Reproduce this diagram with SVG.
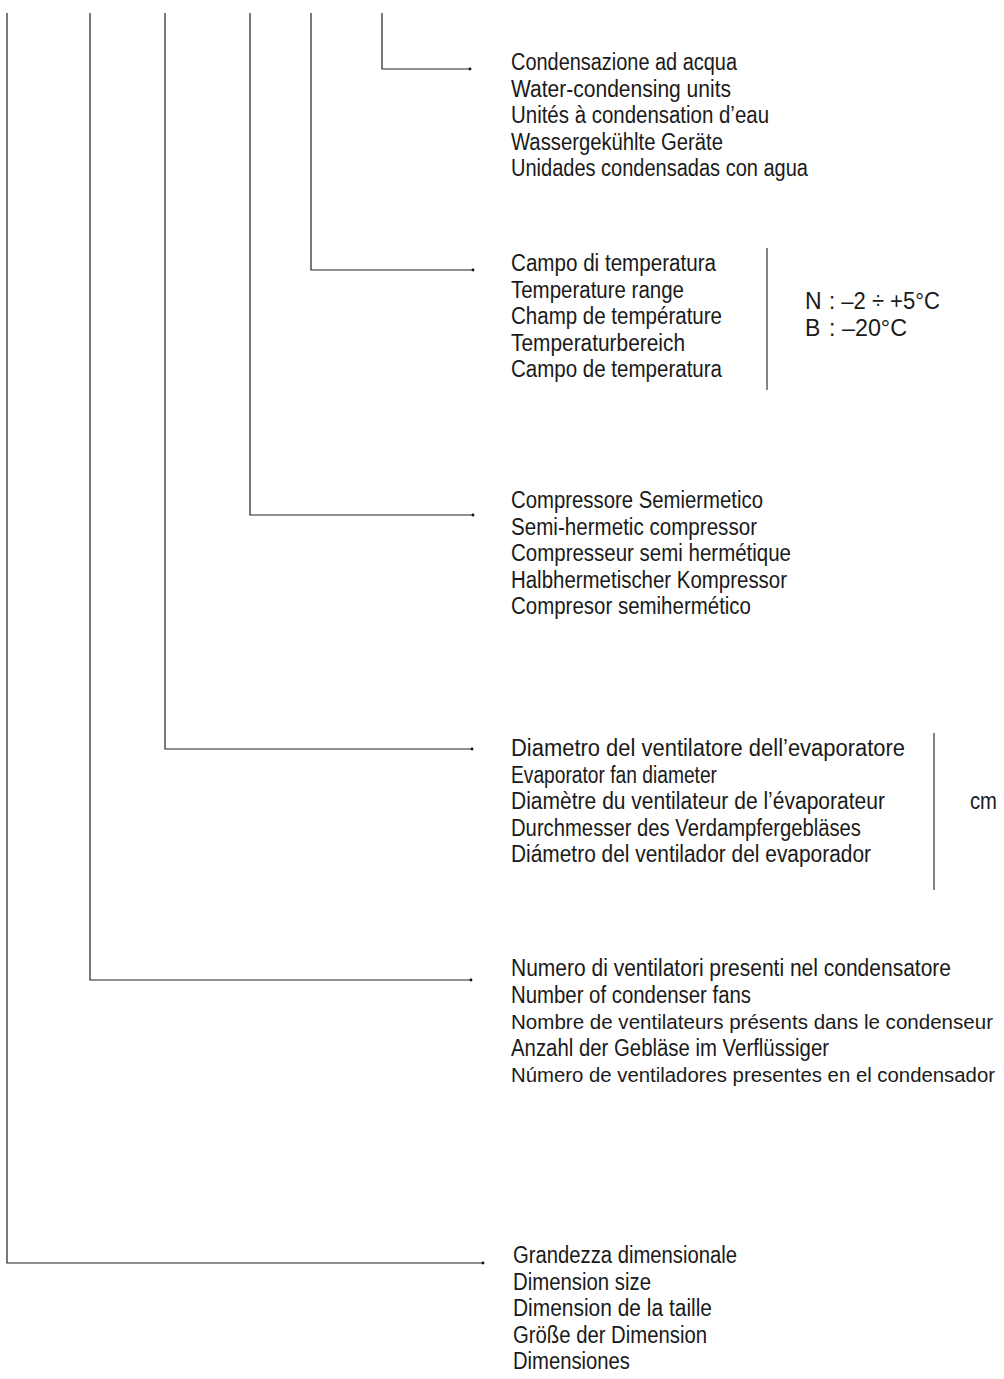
<svg xmlns="http://www.w3.org/2000/svg" width="1004" height="1379" viewBox="0 0 1004 1379">
<style>
.t{font-family:"Liberation Sans Narrow","Liberation Sans",Arial,sans-serif;font-size:23px;fill:#1a1a1a}
.s{font-size:20.5px}
.c{fill:none;stroke:#222;stroke-width:1.2}
.bar{fill:none;stroke:#333;stroke-width:1.2}
</style>
<defs>
<marker id="dot" viewBox="0 0 4 4" refX="2" refY="2" markerWidth="4" markerHeight="4" markerUnits="userSpaceOnUse">
<circle cx="2" cy="2" r="1.4" fill="#111"/>
</marker>
</defs>
<rect width="1004" height="1379" fill="#fff"/>
<g id="connectors">
<path class="c" d="M382,13 V69 H470" marker-end="url(#dot)"/>
<path class="c" d="M311,13 V270 H473" marker-end="url(#dot)"/>
<path class="c" d="M250,13 V515 H473" marker-end="url(#dot)"/>
<path class="c" d="M165,13 V749 H472" marker-end="url(#dot)"/>
<path class="c" d="M90,13 V980 H471" marker-end="url(#dot)"/>
<path class="c" d="M7,13 V1263 H483" marker-end="url(#dot)"/>
</g>
<g id="node-water">
<text class="t" x="511" y="70" textLength="226" lengthAdjust="spacingAndGlyphs">Condensazione ad acqua</text>
<text class="t" x="511" y="96.5" textLength="220" lengthAdjust="spacingAndGlyphs">Water-condensing units</text>
<text class="t" x="511" y="123" textLength="258" lengthAdjust="spacingAndGlyphs">Unités à condensation d’eau</text>
<text class="t" x="511" y="149.5" textLength="212" lengthAdjust="spacingAndGlyphs">Wassergekühlte Geräte</text>
<text class="t" x="511" y="176" textLength="297" lengthAdjust="spacingAndGlyphs">Unidades condensadas con agua</text>
</g>
<g id="node-temperature">
<text class="t" x="511" y="271" textLength="205" lengthAdjust="spacingAndGlyphs">Campo di temperatura</text>
<text class="t" x="511" y="297.5" textLength="173" lengthAdjust="spacingAndGlyphs">Temperature range</text>
<text class="t" x="511" y="324" textLength="211" lengthAdjust="spacingAndGlyphs">Champ de température</text>
<text class="t" x="511" y="350.5" textLength="174" lengthAdjust="spacingAndGlyphs">Temperaturbereich</text>
<text class="t" x="511" y="377" textLength="211" lengthAdjust="spacingAndGlyphs">Campo de temperatura</text>
<line class="bar" x1="767" y1="248" x2="767" y2="390"/>
<text class="t" x="805" y="309">N</text>
<text class="t" x="829" y="309" textLength="111" lengthAdjust="spacingAndGlyphs">: –2 ÷ +5°C</text>
<text class="t" x="805" y="336">B</text>
<text class="t" x="829" y="336" textLength="78" lengthAdjust="spacingAndGlyphs">: –20°C</text>
</g>
<g id="node-compressor">
<text class="t" x="511" y="508" textLength="252" lengthAdjust="spacingAndGlyphs">Compressore Semiermetico</text>
<text class="t" x="511" y="534.5" textLength="246" lengthAdjust="spacingAndGlyphs">Semi-hermetic compressor</text>
<text class="t" x="511" y="561" textLength="280" lengthAdjust="spacingAndGlyphs">Compresseur semi hermétique</text>
<text class="t" x="511" y="587.5" textLength="276" lengthAdjust="spacingAndGlyphs">Halbhermetischer Kompressor</text>
<text class="t" x="511" y="614" textLength="240" lengthAdjust="spacingAndGlyphs">Compresor semihermético</text>
</g>
<g id="node-evaporator-fan">
<text class="t" x="511" y="756" textLength="394" lengthAdjust="spacingAndGlyphs">Diametro del ventilatore dell’evaporatore</text>
<text class="t" x="511" y="782.5" textLength="206" lengthAdjust="spacingAndGlyphs">Evaporator fan diameter</text>
<text class="t" x="511" y="809" textLength="374" lengthAdjust="spacingAndGlyphs">Diamètre du ventilateur de l’évaporateur</text>
<text class="t" x="511" y="835.5" textLength="350" lengthAdjust="spacingAndGlyphs">Durchmesser des Verdampfergebläses</text>
<text class="t" x="511" y="862" textLength="360" lengthAdjust="spacingAndGlyphs">Diámetro del ventilador del evaporador</text>
<line class="bar" x1="934" y1="733" x2="934" y2="890"/>
<text class="t" x="970" y="809" textLength="27" lengthAdjust="spacingAndGlyphs">cm</text>
</g>
<g id="node-condenser-fans">
<text class="t" x="511" y="976" textLength="440" lengthAdjust="spacingAndGlyphs">Numero di ventilatori presenti nel condensatore</text>
<text class="t" x="511" y="1002.5" textLength="240" lengthAdjust="spacingAndGlyphs">Number of condenser fans</text>
<text class="t s" x="511" y="1029" textLength="482" lengthAdjust="spacingAndGlyphs">Nombre de ventilateurs présents dans le condenseur</text>
<text class="t" x="511" y="1055.5" textLength="318" lengthAdjust="spacingAndGlyphs">Anzahl der Gebläse im Verflüssiger</text>
<text class="t s" x="511" y="1082" textLength="484" lengthAdjust="spacingAndGlyphs">Número de ventiladores presentes en el condensador</text>
</g>
<g id="node-size">
<text class="t" x="513" y="1263" textLength="224" lengthAdjust="spacingAndGlyphs">Grandezza dimensionale</text>
<text class="t" x="513" y="1289.5" textLength="138" lengthAdjust="spacingAndGlyphs">Dimension size</text>
<text class="t" x="513" y="1316" textLength="199" lengthAdjust="spacingAndGlyphs">Dimension de la taille</text>
<text class="t" x="513" y="1342.5" textLength="194" lengthAdjust="spacingAndGlyphs">Größe der Dimension</text>
<text class="t" x="513" y="1369" textLength="117" lengthAdjust="spacingAndGlyphs">Dimensiones</text>
</g>
</svg>
